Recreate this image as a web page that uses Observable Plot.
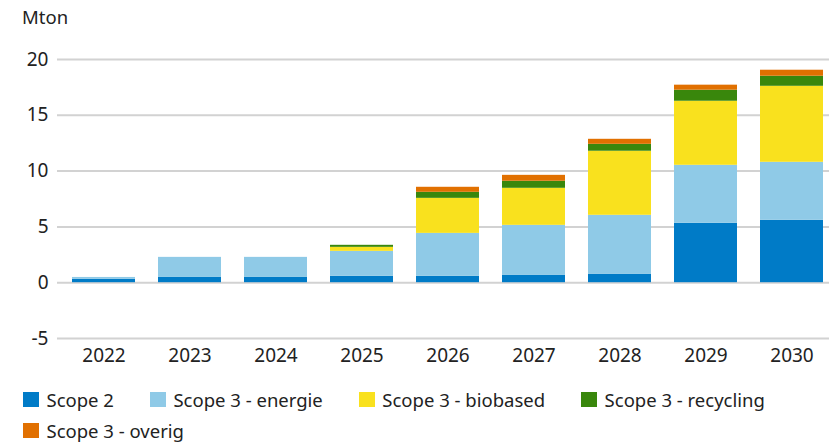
<!DOCTYPE html>
<html><head><meta charset="utf-8">
<script src="https://cdn.jsdelivr.net/npm/d3@7"></script>
<script src="https://cdn.jsdelivr.net/npm/@observablehq/plot@0.6"></script>
<style>
body{margin:0;background:#fff;font-family:"Noto Sans",sans-serif;color:#222;}
#wrap{position:relative;width:829px;height:444px;overflow:hidden;}
#unit{position:absolute;left:22px;top:4px;font-size:18.5px;line-height:normal;}
#chart{position:absolute;left:0;top:32px;}
#legend{position:absolute;left:23px;top:388px;width:800px;display:flex;flex-wrap:wrap;column-gap:36px;row-gap:9px;font-size:18.5px;}
.item{display:flex;align-items:center;height:22px;white-space:nowrap;}
.sw{width:16px;height:15px;margin-right:7.5px;flex:none;}
</style></head>
<body><div id="wrap"><div id="unit">Mton</div><div id="chart"></div><div id="legend"></div></div>
<script>
const years = ["2022","2023","2024","2025","2026","2027","2028","2029","2030"];
const scope2    = [0.30, 0.47, 0.47, 0.57, 0.57, 0.65, 0.74, 5.32, 5.59];
const energie   = [0.17, 1.80, 1.80, 2.24, 3.85, 4.49, 5.30, 5.20, 5.20];
const biobased  = [0,    0,    0,    0.36, 3.14, 3.32, 5.74, 5.74, 6.81];
const recycling = [0,    0,    0,    0.18, 0.54, 0.63, 0.62, 0.99, 0.90];
const overig    = [0,    0,    0,    0,    0.45, 0.53, 0.45, 0.45, 0.54];
const seriesNames = ["Scope 2","Scope 3 - energie","Scope 3 - biobased","Scope 3 - recycling","Scope 3 - overig"];
const seriesColors = ["#007bc7","#8fcae7","#f9e11e","#39870c","#e17000"];
const yTicks = [-5, 0, 5, 10, 15, 20];

const seriesValues = [scope2, energie, biobased, recycling, overig];
const data = years.flatMap((yr, i) => seriesNames.map((s, j) => ({year: yr, series: s, value: seriesValues[j][i]})));

const chart = Plot.plot({
  width: 829, height: 346,
  marginLeft: 57, marginRight: 0, marginTop: 27, marginBottom: 40,
  style: {fontFamily: "Noto Sans", fontSize: "19px", color: "#222", background: "#fff", overflow: "visible"},
  x: {domain: years, paddingInner: 0.272, paddingOuter: 0.098, align: 0.706, label: null, tickSize: 0, tickPadding: 10},
  y: {domain: [-5, 20], ticks: yTicks, label: null, tickSize: 0, tickPadding: 9, tickFormat: d => String(d)},
  color: {domain: seriesNames, range: seriesColors},
  marks: [
    Plot.ruleY(yTicks, {stroke: "#d2d2d2", strokeWidth: 2}),
    Plot.barY(data, {x: "year", y: "value", fill: "series"})
  ]
});
document.getElementById("chart").appendChild(chart);

const legend = document.getElementById("legend");
seriesNames.forEach((s, j) => {
  const it = document.createElement("div");
  it.className = "item";
  const sw = document.createElement("span");
  sw.className = "sw";
  sw.style.background = seriesColors[j];
  const t = document.createElement("span");
  t.textContent = s;
  it.appendChild(sw); it.appendChild(t);
  legend.appendChild(it);
});
</script>
</body></html>
